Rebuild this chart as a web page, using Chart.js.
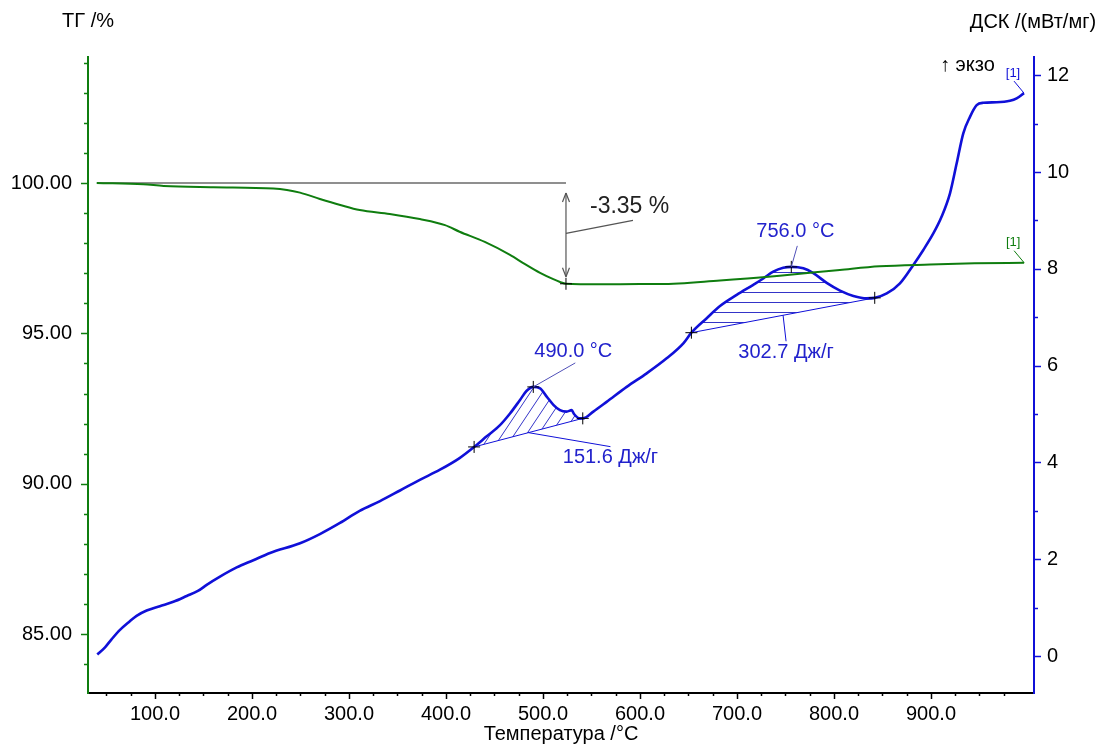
<!DOCTYPE html>
<html>
<head>
<meta charset="utf-8">
<script src="https://cdn.jsdelivr.net/npm/chart.js@4.4.1/dist/chart.umd.min.js"></script>
<style>
  html, body { margin: 0; padding: 0; background: #fff; }
  canvas { display: block; }
</style>
</head>
<body>
<canvas id="c" width="1102" height="747"></canvas>
<script>
// Thermogravimetry (TG) curve: temperature, °C -> residual mass, %
const tgTemp  = [40, 88, 109, 160, 222, 236, 249.5, 270, 291, 311, 342, 373, 399, 414, 440, 466, 481, 497, 510, 517.5, 523.7, 559, 600, 621, 682.5, 744, 806, 847, 899, 945, 996];
const tgValue = [100.00, 99.96, 99.90, 99.86, 99.82, 99.77, 99.68, 99.47, 99.27, 99.10, 98.97, 98.80, 98.60, 98.38, 98.04, 97.61, 97.31, 97.01, 96.81, 96.71, 96.65, 96.63, 96.64, 96.64, 96.76, 96.92, 97.11, 97.23, 97.29, 97.33, 97.35];

// DSC curve: temperature, °C -> heat flow, mW/mg (exo up)
const dscTemp  = [40.5, 48.5, 55.4, 63.9, 73.5, 81, 91.4, 105, 118.9, 132.7, 144.7, 153.3, 167, 184.2, 201.4, 218.6, 249.5, 270, 290.7, 311, 332, 352.6, 373, 393.8, 414, 429, 442, 455.7, 466, 476.3, 483.2, 490, 497, 503.8, 510.7, 517.5, 524.4, 529.6, 532, 538, 541, 551.9, 565.6, 586.3, 606.9, 627.5, 644.7, 653, 668.8, 682.5, 699.7, 716.8, 727.1, 737.4, 747.7, 756, 768.4, 778.7, 792.5, 806.2, 820, 833.7, 842, 854.4, 868, 881.8, 892.1, 902.4, 911, 919.6, 926.5, 933.3, 940.2, 947.1, 954, 967.7, 981.4, 988.3, 995.9];
const dscValue = [0.03, 0.18, 0.35, 0.54, 0.71, 0.83, 0.94, 1.03, 1.12, 1.24, 1.35, 1.47, 1.64, 1.83, 1.98, 2.13, 2.33, 2.52, 2.75, 3.00, 3.20, 3.42, 3.64, 3.85, 4.09, 4.32, 4.54, 4.77, 5.01, 5.29, 5.48, 5.56, 5.53, 5.36, 5.19, 5.08, 5.05, 5.08, 5.00, 4.91, 4.91, 5.05, 5.25, 5.56, 5.84, 6.15, 6.46, 6.68, 6.98, 7.23, 7.46, 7.67, 7.80, 7.94, 8.02, 8.04, 8.01, 7.91, 7.71, 7.55, 7.44, 7.39, 7.40, 7.49, 7.70, 8.08, 8.39, 8.73, 9.08, 9.56, 10.18, 10.80, 11.14, 11.38, 11.43, 11.44, 11.47, 11.52, 11.63];

// Exothermic peaks: integration limits, peak temperature and enthalpy
const peakOnset    = [429, 653];
const peakEndset   = [541, 842];
const peakTemp     = [490.0, 756.0];
const peakEnthalpy = [151.6, 302.7];

// Mass-loss step evaluated on the TG curve
const massStepFrom = 40;
const massStepTo   = 523.7;
const massStepStart = 100.00;
const massLoss     = -3.35;

// Tick label values
const tempTicks = [100, 200, 300, 400, 500, 600, 700, 800, 900];
const tgTicks   = [85, 90, 95, 100];
const dscTicks  = [0, 2, 4, 6, 8, 10, 12];

const GREEN = '#0f7d0f';
const BLUE  = '#1010d8';
const LABEL_BLUE = '#2222cc';
const HATCH = '#3434c8';
const FONT = '"Liberation Sans", Arial, sans-serif';

const pts = (xs, ys) => xs.map((x, i) => ({ x, y: ys[i] }));
const dscAt = t => dscValue[dscTemp.indexOf(t)];

function hatchPattern(kind) {
  const c = document.createElement('canvas');
  const g = c.getContext('2d');
  if (kind === 'horizontal') {
    c.width = 10; c.height = 10;
    g.fillStyle = HATCH;
    g.fillRect(0, 2, 10, 1);
  } else {
    const w = 12, h = 18;
    c.width = w; c.height = h;
    g.strokeStyle = HATCH; g.lineWidth = 1;
    for (let k = -1; k <= 1; k++) {
      g.beginPath(); g.moveTo(k * w, h); g.lineTo(k * w + w, 0); g.stroke();
    }
  }
  return g.createPattern(c, 'repeat');
}
const patterns = [hatchPattern('diagonal'), hatchPattern('horizontal')];

const datasets = [];
// peak areas: curve segment filled down to its straight baseline
peakOnset.forEach((on, i) => {
  const off = peakEndset[i];
  const segT = dscTemp.filter(t => t >= on && t <= off);
  const baseIdx = datasets.length + 1;
  datasets.push({
    data: segT.map(t => ({ x: t, y: dscAt(t) })),
    yAxisID: 'yDSC', borderWidth: 0, pointRadius: 0,
    cubicInterpolationMode: 'monotone',
    fill: { target: baseIdx, above: patterns[i], below: patterns[i] },
    order: 5
  });
  datasets.push({
    data: [{ x: on, y: dscAt(on) }, { x: off, y: dscAt(off) }],
    yAxisID: 'yDSC', borderColor: BLUE, borderWidth: 1, pointRadius: 0,
    fill: false, order: 4
  });
});
// reference level for the mass step
datasets.push({
  data: [{ x: massStepFrom, y: massStepStart }, { x: massStepTo, y: massStepStart }],
  yAxisID: 'yTG', borderColor: '#6a6a6a', borderWidth: 1.5, pointRadius: 0, fill: false, order: 3
});
datasets.push({
  label: 'ДСК', data: pts(dscTemp, dscValue), yAxisID: 'yDSC',
  borderColor: BLUE, borderWidth: 2.6, pointRadius: 0, fill: false,
  cubicInterpolationMode: 'monotone', order: 2
});
datasets.push({
  label: 'ТГ', data: pts(tgTemp, tgValue), yAxisID: 'yTG',
  borderColor: GREEN, borderWidth: 2, pointRadius: 0, fill: false,
  cubicInterpolationMode: 'monotone', order: 1
});
// characteristic points
const crossStyle = { showLine: false, pointStyle: 'cross', pointRadius: 6, pointBorderColor: '#000', pointBorderWidth: 1, order: 0 };
datasets.push(Object.assign({
  data: [].concat(
    peakOnset.map(t => ({ x: t, y: dscAt(t) })),
    peakTemp.map(t => ({ x: t, y: dscAt(t) })),
    peakEndset.map(t => ({ x: t, y: dscAt(t) }))
  ), yAxisID: 'yDSC'
}, crossStyle));
datasets.push(Object.assign({
  data: [{ x: massStepTo, y: massStepStart + massLoss }], yAxisID: 'yTG'
}, crossStyle));

// tick marks: long at labelled values, short in between
const tickMarks = {
  id: 'tickMarks',
  afterDraw(chart) {
    const { ctx, chartArea: a, scales: { x, yTG, yDSC } } = chart;
    ctx.save();
    ctx.lineWidth = 1.5;
    ctx.strokeStyle = '#000';
    for (let t = 50; t <= 975; t += 25) {
      const px = Math.round(x.getPixelForValue(t)) + 0.5;
      const len = t % 100 === 0 ? 6 : 3;
      ctx.beginPath(); ctx.moveTo(px, a.bottom); ctx.lineTo(px, a.bottom + len); ctx.stroke();
    }
    ctx.strokeStyle = GREEN;
    for (let v = 84; v <= 104; v++) {
      const py = Math.round(yTG.getPixelForValue(v)) + 0.5;
      const len = v % 5 === 0 ? 7 : 4;
      ctx.beginPath(); ctx.moveTo(a.left, py); ctx.lineTo(a.left - len, py); ctx.stroke();
    }
    ctx.strokeStyle = BLUE;
    for (let v = 0; v <= 12; v++) {
      const py = Math.round(yDSC.getPixelForValue(v)) + 0.5;
      const len = v % 2 === 0 ? 7 : 4;
      ctx.beginPath(); ctx.moveTo(a.right, py); ctx.lineTo(a.right + len, py); ctx.stroke();
    }
    ctx.restore();
  }
};

function line(ctx, x1, y1, x2, y2) {
  ctx.beginPath(); ctx.moveTo(x1, y1); ctx.lineTo(x2, y2); ctx.stroke();
}

// annotations: mass step, peak temperatures, enthalpies, titles
const annotations = {
  id: 'annotations',
  afterDraw(chart) {
    const { ctx, scales: { x, yTG, yDSC } } = chart;
    ctx.save();
    ctx.textBaseline = 'middle';

    // mass step double arrow
    const ax = x.getPixelForValue(massStepTo);
    const yTop = yTG.getPixelForValue(massStepStart);
    const yBot = yTG.getPixelForValue(massStepStart + massLoss);
    const tipTop = yTop + 10, tipBot = yBot - 7;
    ctx.strokeStyle = '#555'; ctx.lineWidth = 1.2;
    line(ctx, ax, tipTop, ax, tipBot);
    line(ctx, ax, tipTop, ax - 3.5, tipTop + 9);
    line(ctx, ax, tipTop, ax + 3.5, tipTop + 9);
    line(ctx, ax, tipBot, ax - 3.5, tipBot - 9);
    line(ctx, ax, tipBot, ax + 3.5, tipBot - 9);
    const midY = (yTop + yBot) / 2;
    line(ctx, ax, midY, ax + 67, midY - 13);
    ctx.fillStyle = '#222';
    ctx.font = '23px ' + FONT;
    ctx.textAlign = 'left';
    ctx.fillText(massLoss.toFixed(2) + ' %', ax + 24, midY - 27);

    // peaks
    const peakLabelOffsets = [[40, -24, -35], [4, -21, -35]];
    const areaLabelOffsets = [[82, 14, 25], [3, 26, 37]];
    ctx.font = '20px ' + FONT;
    ctx.textAlign = 'center';
    peakTemp.forEach((t, i) => {
      const px = x.getPixelForValue(t), py = yDSC.getPixelForValue(dscAt(t));
      const [dx, dl, dt] = peakLabelOffsets[i];
      ctx.strokeStyle = '#5050b8'; ctx.lineWidth = 1;
      line(ctx, px, py, px + dx + 2, py + dl);
      ctx.fillStyle = LABEL_BLUE;
      ctx.fillText(t.toFixed(1) + ' °C', px + dx, py + dt);

      const mx = (x.getPixelForValue(peakOnset[i]) + x.getPixelForValue(peakEndset[i])) / 2;
      const my = (yDSC.getPixelForValue(dscAt(peakOnset[i])) + yDSC.getPixelForValue(dscAt(peakEndset[i]))) / 2;
      const [ex, el, et] = areaLabelOffsets[i];
      ctx.strokeStyle = BLUE;
      line(ctx, mx, my, mx + ex, my + el);
      ctx.fillText(peakEnthalpy[i].toFixed(1) + ' Дж/г', mx + ex, my + et);
    });

    // curve end tags
    ctx.font = '13px ' + FONT;
    const endTag = (px, py, color) => {
      ctx.strokeStyle = color; ctx.fillStyle = color; ctx.lineWidth = 1;
      line(ctx, px - 10, py - 12, px, py);
      ctx.fillText('[1]', px - 11, py - 20);
    };
    endTag(x.getPixelForValue(dscTemp[dscTemp.length - 1]), yDSC.getPixelForValue(dscValue[dscValue.length - 1]), BLUE);
    endTag(x.getPixelForValue(tgTemp[tgTemp.length - 1]), yTG.getPixelForValue(tgValue[tgValue.length - 1]), GREEN);

    // titles
    ctx.fillStyle = '#000';
    ctx.font = '20px ' + FONT;
    ctx.textAlign = 'center';
    ctx.fillText('ТГ /%', 88, 21);
    ctx.fillText('ДСК /(мВт/мг)', 1033, 22);
    ctx.fillText('Температура /°C', 561, 734);
    ctx.textAlign = 'left';
    ctx.fillText('↑ экзо', 940, 65);
    ctx.restore();
  }
};

const tickFont = { family: FONT, size: 20 };

new Chart(document.getElementById('c'), {
  type: 'line',
  data: { datasets },
  plugins: [tickMarks, annotations],
  options: {
    responsive: false,
    devicePixelRatio: 1,
    animation: false,
    events: [],
    layout: { padding: { top: 57, left: 0, right: 0, bottom: 0 } },
    plugins: { legend: { display: false }, tooltip: { enabled: false } },
    scales: {
      x: {
        type: 'linear', min: 30.93, max: 1006.2,
        border: { display: true, color: '#000', width: 2 },
        grid: { display: false, drawTicks: false },
        afterBuildTicks: s => { s.ticks = tempTicks.map(v => ({ value: v })); },
        ticks: { autoSkip: false, maxRotation: 0, padding: 9, color: '#000', font: tickFont,
                 callback: v => Number(v).toFixed(1) },
        afterFit: s => { s.height = 54; }
      },
      yTG: {
        type: 'linear', position: 'left', min: 83.045, max: 104.189,
        border: { display: true, color: GREEN, width: 2 },
        grid: { display: false, drawTicks: false },
        afterBuildTicks: s => { s.ticks = tgTicks.map(v => ({ value: v })); },
        ticks: { padding: 16, color: '#000', font: tickFont, callback: v => Number(v).toFixed(2) },
        afterFit: s => { s.width = 88; }
      },
      yDSC: {
        type: 'linear', position: 'right', min: -0.764, max: 12.376,
        border: { display: true, color: BLUE, width: 2 },
        grid: { display: false, drawTicks: false },
        afterBuildTicks: s => { s.ticks = dscTicks.map(v => ({ value: v })); },
        ticks: { padding: 13, color: '#000', font: tickFont, callback: v => String(v) },
        afterFit: s => { s.width = 68; }
      }
    }
  }
});
</script>
</body>
</html>
